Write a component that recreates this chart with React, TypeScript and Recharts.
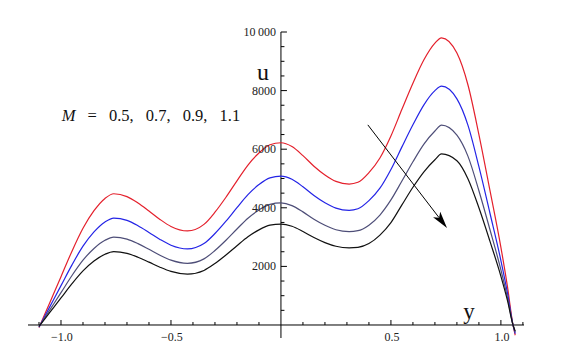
import { Line, LineChart, ReferenceDot, ReferenceLine, XAxis, YAxis } from 'recharts';

// y positions (horizontal axis) and velocity u for each M
const yPos = [-1.1, -1.05, -1.0, -0.95, -0.9, -0.85, -0.8, -0.76, -0.7, -0.65, -0.6, -0.55, -0.5, -0.425, -0.35, -0.3, -0.25, -0.2, -0.15, -0.1, -0.05, 0, 0.05, 0.1, 0.15, 0.2, 0.25, 0.31, 0.35, 0.4, 0.45, 0.5, 0.55, 0.6, 0.65, 0.7, 0.73, 0.8, 0.85, 0.9, 0.95, 1.0, 1.03, 1.055, 1.065];
const uM05 = [-90, 780, 1650, 2520, 3300, 3900, 4320, 4480, 4382, 4164, 3890, 3604, 3364, 3211, 3434, 3850, 4360, 4920, 5460, 5870, 6150, 6220, 6090, 5780, 5420, 5120, 4900, 4810, 4870, 5200, 5700, 6450, 7360, 8250, 9050, 9620, 9800, 9280, 8200, 6500, 4600, 2650, 1300, 0, -350];
const uM07 = [-73, 635, 1343, 2053, 2690, 3179, 3519, 3650, 3569, 3387, 3159, 2921, 2723, 2595, 2779, 3122, 3544, 4006, 4451, 4792, 5023, 5080, 4973, 4717, 4419, 4171, 3990, 3915, 3966, 4245, 4669, 5308, 6079, 6833, 7515, 7998, 8150, 7718, 6822, 5403, 3822, 2201, 1084, 0, -293];
const uM09 = [-60, 522, 1104, 1688, 2211, 2613, 2892, 3000, 2931, 2777, 2584, 2382, 2213, 2105, 2257, 2542, 2892, 3275, 3644, 3926, 4118, 4165, 4075, 3861, 3612, 3405, 3252, 3190, 3219, 3408, 3753, 4268, 4914, 5571, 6174, 6620, 6820, 6479, 5763, 4583, 3260, 1882, 928, 0, -245];
const uM11 = [-50, 436, 922, 1409, 1846, 2182, 2415, 2505, 2446, 2313, 2147, 1973, 1828, 1735, 1862, 2098, 2388, 2706, 3012, 3247, 3406, 3445, 3370, 3192, 2986, 2813, 2687, 2635, 2651, 2779, 3068, 3494, 4100, 4700, 5230, 5640, 5840, 5606, 4993, 4000, 2862, 1664, 829, 0, -210];

const seriesKeys = ['m05', 'm07', 'm09', 'm11'];
const seriesColors = ['#e4202c', '#2424e6', '#4e4e78', '#111111'];

const xMajor = [-1.0, -0.5, 0.5, 1.0];
const xMajorLabels = ['\u22121.0', '\u22120.5', '0.5', '1.0'];
const xMinor = [-1.1, -0.9, -0.8, -0.7, -0.6, -0.4, -0.3, -0.2, -0.1, 0.1, 0.2, 0.3, 0.4, 0.6, 0.7, 0.8, 0.9, 1.1];
const uMajor = [2000, 4000, 6000, 8000, 10000];
const uMajorLabels = ['2000', '4000', '6000', '8000', '10\u2009000'];
const uMinor = [500, 1000, 1500, 2500, 3000, 3500, 4500, 5000, 5500, 6500, 7000, 7500, 8500, 9000, 9500];

const mValues = '0.5, 0.7, 0.9, 1.1';
const arrowFrom = { x: 0.395, y: 6830 };
const arrowTo = { x: 0.755, y: 3310 };

const data = yPos.map((x, i) => ({
  x,
  m05: uM05[i],
  m07: uM07[i],
  m09: uM09[i],
  m11: uM11[i],
}));

const serif = '"Liberation Serif", "Times New Roman", serif';

function Arrow(p: any) {
  const { x1, y1, x2, y2 } = p;
  const dx = x2 - x1;
  const dy = y2 - y1;
  const len = Math.hypot(dx, dy);
  const ux = dx / len;
  const uy = dy / len;
  const hl = 17;
  const hw = 4.5;
  const bx = x2 - ux * hl;
  const by = y2 - uy * hl;
  return (
    <g>
      <line x1={x1} y1={y1} x2={bx + ux * 4} y2={by + uy * 4} stroke="#000" strokeWidth={1} />
      <polygon
        points={`${x2},${y2} ${bx - uy * hw},${by + ux * hw} ${bx + ux * 4},${by + uy * 4} ${bx + uy * hw},${by - ux * hw}`}
        fill="#000"
      />
    </g>
  );
}

export default function App() {
  return (
    <LineChart
      width={547}
      height={345}
      data={data}
      margin={{ top: 24, right: 31, bottom: 15, left: 20 }}
    >
      <XAxis dataKey="x" type="number" domain={[-1.15, 1.105]} allowDataOverflow hide />
      <YAxis type="number" domain={[-444, 10000]} allowDataOverflow hide />

      <ReferenceLine y={0} stroke="#000" strokeWidth={1} />
      <ReferenceLine x={0} stroke="#000" strokeWidth={1} />

      {xMinor.map((v) => (
        <ReferenceDot
          key={'xm' + v}
          x={v}
          y={0}
          r={0}
          shape={(p: any) => <line x1={p.cx} y1={p.cy} x2={p.cx} y2={p.cy - 3} stroke="#000" />}
        />
      ))}
      {xMajor.map((v, i) => (
        <ReferenceDot
          key={'xM' + v}
          x={v}
          y={0}
          r={0}
          shape={(p: any) => (
            <g>
              <line x1={p.cx} y1={p.cy} x2={p.cx} y2={p.cy - 5} stroke="#000" />
              <text x={p.cx + 1} y={p.cy + 16} textAnchor="middle" fontSize={12} fontFamily={serif} fill="#222">
                {xMajorLabels[i]}
              </text>
            </g>
          )}
        />
      ))}
      {uMinor.map((v) => (
        <ReferenceDot
          key={'um' + v}
          x={0}
          y={v}
          r={0}
          shape={(p: any) => <line x1={p.cx} y1={p.cy} x2={p.cx + 3.5} y2={p.cy} stroke="#000" />}
        />
      ))}
      {uMajor.map((v, i) => (
        <ReferenceDot
          key={'uM' + v}
          x={0}
          y={v}
          r={0}
          shape={(p: any) => (
            <g>
              <line x1={p.cx} y1={p.cy} x2={p.cx + 6} y2={p.cy} stroke="#000" />
              <text x={p.cx - 5} y={p.cy + 4} textAnchor="end" fontSize={12} fontFamily={serif} fill="#222">
                {uMajorLabels[i]}
              </text>
            </g>
          )}
        />
      ))}

      {seriesKeys.map((k, i) => (
        <Line
          key={k}
          type="monotone"
          dataKey={k}
          stroke={seriesColors[i]}
          strokeWidth={1.2}
          dot={false}
          activeDot={false}
          isAnimationActive={false}
        />
      ))}

      <ReferenceLine segment={[arrowFrom, arrowTo]} shape={Arrow} />

      <ReferenceDot
        x={-0.082}
        y={8370}
        r={0}
        shape={(p: any) => (
          <text x={p.cx} y={p.cy} textAnchor="middle" fontSize={24} fontFamily={serif} fill="#111">
            u
          </text>
        )}
      />
      <ReferenceDot
        x={0.855}
        y={205}
        r={0}
        shape={(p: any) => (
          <text x={p.cx} y={p.cy} textAnchor="middle" fontSize={23} fontFamily={serif} fill="#111">
            y
          </text>
        )}
      />
      <ReferenceDot
        x={-0.591}
        y={6970}
        r={0}
        shape={(p: any) => (
          <text x={p.cx} y={p.cy} textAnchor="middle" fontSize={16.5} wordSpacing={8} fontFamily={serif} fill="#111">
            <tspan fontStyle="italic">M</tspan> = {mValues}
          </text>
        )}
      />
    </LineChart>
  );
}
